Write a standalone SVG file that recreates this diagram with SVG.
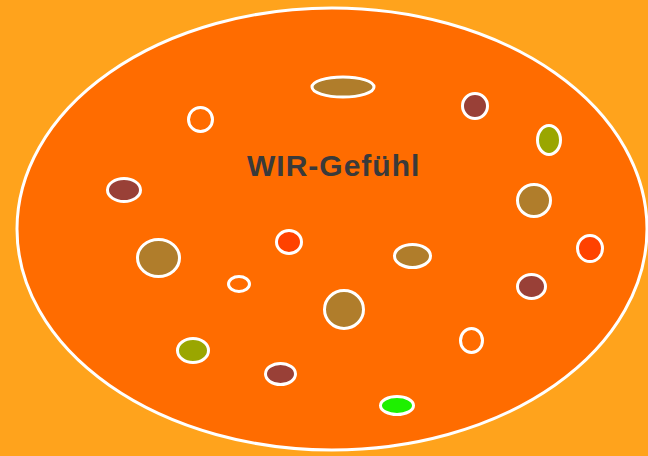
<svg xmlns="http://www.w3.org/2000/svg" width="648" height="456" viewBox="0 0 648 456">
<style>
.dot{stroke:#fff;stroke-width:3}
.br{fill:#B07D2B}
.rd{fill:#994037}
.ol{fill:#9AA600}
.rr{fill:#FF4200}
.or{fill:#FF6C00}
.gr{fill:#1EF000}
.title{font-family:"Liberation Sans",Arial,sans-serif;font-weight:bold;font-size:30px;fill:#3a3a3a;letter-spacing:1px}
</style>
<rect width="648" height="456" fill="#FFA31C"/>
<g id="wir">
<ellipse cx="332" cy="229" rx="315" ry="221" fill="#FF6C00" stroke="#fff" stroke-width="3"/>
<text class="title" x="247" y="176">WIR-Gefühl</text>
</g>
<g id="n1"><ellipse class="dot br" cx="343" cy="87" rx="31" ry="10"/></g>
<g id="n2"><ellipse class="dot or" cx="200.5" cy="119.5" rx="12" ry="12"/></g>
<g id="n3"><ellipse class="dot rd" cx="124" cy="190" rx="16.5" ry="11.5"/></g>
<g id="n4"><ellipse class="dot br" cx="158.5" cy="258" rx="21" ry="18.5"/></g>
<g id="n5"><ellipse class="dot rr" cx="289" cy="242" rx="12.5" ry="11.5"/></g>
<g id="n6"><ellipse class="dot or" cx="239" cy="284" rx="10.5" ry="7.5"/></g>
<g id="n7"><ellipse class="dot br" cx="412.5" cy="256" rx="18" ry="11.5"/></g>
<g id="n8"><ellipse class="dot br" cx="344" cy="309.5" rx="19.5" ry="19"/></g>
<g id="n9"><ellipse class="dot rd" cx="475" cy="106" rx="12.5" ry="12.5"/></g>
<g id="n10"><ellipse class="dot ol" cx="549" cy="140" rx="11.5" ry="14.5"/></g>
<g id="n11"><ellipse class="dot br" cx="534" cy="200.5" rx="16.5" ry="16"/></g>
<g id="n12"><ellipse class="dot rr" cx="590" cy="248.5" rx="12.5" ry="13"/></g>
<g id="n13"><ellipse class="dot rd" cx="531.5" cy="286.5" rx="14" ry="12"/></g>
<g id="n14"><ellipse class="dot or" cx="471.5" cy="340.5" rx="11" ry="12"/></g>
<g id="n15"><ellipse class="dot ol" cx="193" cy="350.5" rx="15.5" ry="12"/></g>
<g id="n16"><ellipse class="dot rd" cx="280.5" cy="374" rx="15" ry="10.5"/></g>
<g id="n17"><ellipse class="dot gr" cx="397" cy="405.5" rx="16.5" ry="9"/></g>
<g id="connectors"></g>
</svg>
